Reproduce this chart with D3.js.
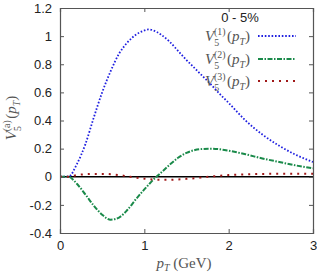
<!DOCTYPE html>
<html>
<head>
<meta charset="utf-8">
<script src="https://cdn.jsdelivr.net/npm/d3@7"></script>
<style>
  body { margin: 0; background: #fff; }
  svg { display: block; }
</style>
</head>
<body>
<div id="chart"></div>
<script>
const pt = [0, 0.1, 0.2, 0.3, 0.4, 0.5, 0.6, 0.7, 0.8, 0.9, 1.0, 1.05, 1.1, 1.2, 1.3, 1.4, 1.5, 1.6, 1.7, 1.8, 1.9, 2.0, 2.2, 2.4, 2.6, 2.8, 3.0];
const v1 = [0, 0, 0.09, 0.23, 0.42, 0.6, 0.75, 0.875, 0.955, 1.01, 1.04, 1.048, 1.042, 1.01, 0.96, 0.895, 0.83, 0.77, 0.71, 0.65, 0.585, 0.525, 0.4, 0.3, 0.22, 0.155, 0.105];
const v2 = [0, 0, -0.05, -0.125, -0.205, -0.27, -0.305, -0.29, -0.235, -0.16, -0.09, -0.057, -0.025, 0.03, 0.085, 0.135, 0.17, 0.19, 0.198, 0.2, 0.195, 0.185, 0.16, 0.13, 0.105, 0.08, 0.06];
const v3 = [0, 0, 0.012, 0.018, 0.02, 0.02, 0.018, 0.012, 0.003, -0.006, -0.014, -0.017, -0.02, -0.022, -0.022, -0.019, -0.015, -0.01, -0.004, 0.002, 0.007, 0.012, 0.017, 0.02, 0.021, 0.021, 0.021];
const xTicks = [0, 1, 2, 3];
const yTicks = [-0.4, -0.2, 0, 0.2, 0.4, 0.6, 0.8, 1, 1.2];
const seriesLabels = ["(1)", "(2)", "(3)"];
const centrality = "0 - 5%";

const width = 317, height = 277;
const margin = { top: 8, right: 4, bottom: 44, left: 60 };

const svg = d3.select("#chart").append("svg")
  .attr("width", width)
  .attr("height", height);

const x = d3.scaleLinear().domain([0, 3]).range([margin.left, width - margin.right]);
const y = d3.scaleLinear().domain([-0.4, 1.2]).range([height - margin.bottom, margin.top]);

const frame = "#555";
const tickFont = "'Liberation Sans', Arial, sans-serif";
const mathFont = "'Liberation Serif', 'DejaVu Serif', serif";

// zero line
svg.append("line")
  .attr("x1", x(0)).attr("x2", x(3))
  .attr("y1", y(0)).attr("y2", y(0))
  .attr("stroke", "#000").attr("stroke-width", 1.3);

const series = [
  { values: v1, color: "#2020e0", dash: "1.6,1.8", w: 1.8 },
  { values: v2, color: "#1a8a4a", dash: "5,1.5,1.5,1.5", w: 2 },
  { values: v3, color: "#a01818", dash: "2,5", w: 2 }
];

const line = d3.line().curve(d3.curveMonotoneX);

series.forEach(s => {
  svg.append("path")
    .datum(pt.map((p, i) => [x(p), y(s.values[i])]))
    .attr("fill", "none")
    .attr("stroke", s.color)
    .attr("stroke-width", s.w)
    .attr("stroke-dasharray", s.dash)
    .attr("d", line);
});

// axes with inward ticks, mirrored
const axB = svg.append("g").attr("transform", `translate(0,${y(-0.4)})`)
  .call(d3.axisBottom(x).tickValues(xTicks).tickSize(-4).tickPadding(8).tickFormat(d3.format("d")));
const axT = svg.append("g").attr("transform", `translate(0,${y(1.2)})`)
  .call(d3.axisTop(x).tickValues(xTicks).tickSize(-4).tickFormat(""));
const axL = svg.append("g").attr("transform", `translate(${x(0)},0)`)
  .call(d3.axisLeft(y).tickValues(yTicks).tickSize(-4).tickPadding(8).tickFormat(d => d3.format("~g")(d)));
const axR = svg.append("g").attr("transform", `translate(${x(3)},0)`)
  .call(d3.axisRight(y).tickValues(yTicks).tickSize(-4).tickFormat(""));

[axB, axT, axL, axR].forEach(g => {
  g.select(".domain").attr("stroke", frame).attr("stroke-width", 1.2);
  g.selectAll(".tick line").attr("stroke", frame);
  g.selectAll(".tick text")
    .attr("fill", "#222")
    .style("font-family", tickFont)
    .style("font-size", "13px");
});
axL.selectAll(".tick text").text(d => d < 0 ? "-" + Math.abs(d) : d);

// math label helper: V_5^{sup}(p_T)
function mathLabel(sel, sup, size) {
  const t = sel.style("font-family", mathFont).attr("fill", "#555");
  t.append("tspan").attr("font-style", "italic").style("font-size", size + "px").text("V");
  t.append("tspan").attr("dy", size * 0.3).style("font-size", (size * 0.66) + "px").text("5");
  t.append("tspan").attr("dx", -size * 0.34).attr("dy", -size * 0.72).style("font-size", (size * 0.66) + "px")
    .text(sup);
  t.append("tspan").attr("dy", size * 0.42).attr("dx", 1.5).style("font-size", size + "px").text("(");
  t.append("tspan").attr("font-style", "italic").style("font-size", size + "px").text("p");
  t.append("tspan").attr("font-style", "italic").attr("dy", size * 0.25).style("font-size", (size * 0.66) + "px").text("T");
  t.append("tspan").attr("dy", -size * 0.25).style("font-size", size + "px").text(")");
  return t;
}

// legend
svg.append("text")
  .attr("x", 240).attr("y", 22)
  .attr("text-anchor", "middle")
  .style("font-family", tickFont).style("font-size", "13px")
  .attr("fill", "#222")
  .text(centrality);

const legendY = [36, 59, 81];
series.forEach((s, i) => {
  mathLabel(svg.append("text")
    .attr("x", 250).attr("y", legendY[i] + 5)
    .attr("text-anchor", "end"), seriesLabels[i], 15);
  svg.append("line")
    .attr("x1", 258).attr("x2", 296)
    .attr("y1", legendY[i]).attr("y2", legendY[i])
    .attr("stroke", s.color)
    .attr("stroke-width", s.w)
    .attr("stroke-dasharray", s.dash);
});

// y label
mathLabel(svg.append("text")
  .attr("transform", `translate(16,${118}) rotate(-90)`)
  .attr("text-anchor", "middle"), "(a)", 15);

// x label
const xl = svg.append("text")
  .attr("x", 184).attr("y", 268)
  .attr("text-anchor", "middle")
  .style("font-family", mathFont).attr("fill", "#555").style("font-size", "15px");
xl.append("tspan").attr("font-style", "italic").text("p");
xl.append("tspan").attr("font-style", "italic").attr("dy", 3).style("font-size", "10px").text("T");
xl.append("tspan").attr("dy", -3).text(" (GeV)");
</script>
</body>
</html>
